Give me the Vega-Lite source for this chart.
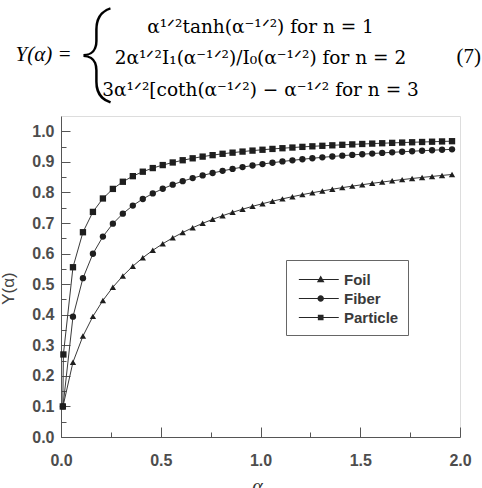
{
  "$schema": "https://vega.github.io/schema/vega-lite/v6.json",
  "width": 399,
  "height": 321,
  "autosize": {"type": "none"},
  "padding": {"left": 61, "top": 116, "right": 22, "bottom": 51},
  "background": "white",
  "title": {
    "text": ["α¹ᐟ²tanh(α⁻¹ᐟ²) for n = 1", "2α¹ᐟ²I₁(α⁻¹ᐟ²)/I₀(α⁻¹ᐟ²) for n = 2", "3α¹ᐟ²[coth(α⁻¹ᐟ²) − α⁻¹ᐟ² for n = 3"],
    "anchor": "middle",
    "frame": "group",
    "font": "DejaVu Serif",
    "fontSize": 18.5,
    "fontWeight": "normal",
    "lineHeight": 31.5,
    "color": "black",
    "offset": 0,
    "dy": 94
  },
  "data": {
    "values": [
      {"a": 0.009, "Particle": 0.100},
      {"a": 0.01, "Foil": 0.100, "Fiber": 0.100},
      {"a": 0.012, "Particle": 0.270},
      {"a": 0.06, "Foil": 0.2448, "Fiber": 0.3935, "Particle": 0.5553},
      {"a": 0.11, "Foil": 0.3301, "Fiber": 0.5195, "Particle": 0.6698},
      {"a": 0.16, "Foil": 0.3946, "Fiber": 0.5993, "Particle": 0.7363},
      {"a": 0.21, "Foil": 0.4467, "Fiber": 0.6556, "Particle": 0.7802},
      {"a": 0.26, "Foil": 0.4901, "Fiber": 0.6978, "Particle": 0.8115},
      {"a": 0.31, "Foil": 0.5269, "Fiber": 0.7306, "Particle": 0.8349},
      {"a": 0.36, "Foil": 0.5587, "Fiber": 0.7570, "Particle": 0.8532},
      {"a": 0.41, "Foil": 0.5863, "Fiber": 0.7786, "Particle": 0.8678},
      {"a": 0.46, "Foil": 0.6107, "Fiber": 0.7967, "Particle": 0.8797},
      {"a": 0.51, "Foil": 0.6321, "Fiber": 0.8120, "Particle": 0.8895},
      {"a": 0.56, "Foil": 0.6515, "Fiber": 0.8254, "Particle": 0.8980},
      {"a": 0.61, "Foil": 0.6689, "Fiber": 0.8368, "Particle": 0.9053},
      {"a": 0.66, "Foil": 0.6846, "Fiber": 0.8468, "Particle": 0.9116},
      {"a": 0.71, "Foil": 0.6989, "Fiber": 0.8557, "Particle": 0.9172},
      {"a": 0.76, "Foil": 0.7119, "Fiber": 0.8636, "Particle": 0.9220},
      {"a": 0.81, "Foil": 0.7239, "Fiber": 0.8706, "Particle": 0.9264},
      {"a": 0.86, "Foil": 0.7350, "Fiber": 0.8770, "Particle": 0.9301},
      {"a": 0.91, "Foil": 0.7451, "Fiber": 0.8828, "Particle": 0.9336},
      {"a": 0.96, "Foil": 0.7545, "Fiber": 0.8880, "Particle": 0.9368},
      {"a": 1.01, "Foil": 0.7632, "Fiber": 0.8928, "Particle": 0.9396},
      {"a": 1.06, "Foil": 0.7713, "Fiber": 0.8972, "Particle": 0.9423},
      {"a": 1.11, "Foil": 0.7789, "Fiber": 0.9013, "Particle": 0.9446},
      {"a": 1.16, "Foil": 0.7861, "Fiber": 0.9050, "Particle": 0.9468},
      {"a": 1.21, "Foil": 0.7928, "Fiber": 0.9085, "Particle": 0.9490},
      {"a": 1.26, "Foil": 0.7990, "Fiber": 0.9117, "Particle": 0.9508},
      {"a": 1.31, "Foil": 0.8049, "Fiber": 0.9148, "Particle": 0.9525},
      {"a": 1.36, "Foil": 0.8105, "Fiber": 0.9176, "Particle": 0.9541},
      {"a": 1.41, "Foil": 0.8157, "Fiber": 0.9202, "Particle": 0.9558},
      {"a": 1.46, "Foil": 0.8206, "Fiber": 0.9227, "Particle": 0.9571},
      {"a": 1.51, "Foil": 0.8253, "Fiber": 0.9250, "Particle": 0.9585},
      {"a": 1.56, "Foil": 0.8298, "Fiber": 0.9272, "Particle": 0.9597},
      {"a": 1.61, "Foil": 0.8340, "Fiber": 0.9292, "Particle": 0.9609},
      {"a": 1.66, "Foil": 0.8381, "Fiber": 0.9312, "Particle": 0.9621},
      {"a": 1.71, "Foil": 0.8419, "Fiber": 0.9330, "Particle": 0.9631},
      {"a": 1.76, "Foil": 0.8456, "Fiber": 0.9348, "Particle": 0.9641},
      {"a": 1.81, "Foil": 0.8491, "Fiber": 0.9364, "Particle": 0.9650},
      {"a": 1.86, "Foil": 0.8524, "Fiber": 0.9380, "Particle": 0.9659},
      {"a": 1.91, "Foil": 0.8556, "Fiber": 0.9395, "Particle": 0.9668},
      {"a": 1.96, "Foil": 0.8587, "Fiber": 0.9409, "Particle": 0.9676}
    ]
  },
  "transform": [
    {"fold": ["Foil", "Fiber", "Particle"], "as": ["s", "y"]},
    {"filter": "isValid(datum.y)"}
  ],
  "resolve": {"axis": {"x": "independent", "y": "independent"}, "scale": {"shape": "independent"}},
  "layer": [
    {
      "mark": {"type": "line", "color": "#3a3a3a", "strokeWidth": 1},
      "encoding": {
        "x": {
          "field": "a", "type": "quantitative",
          "scale": {"domain": [0, 2], "nice": false, "zero": false},
          "axis": {
            "orient": "bottom", "values": [0, 0.5, 1, 1.5, 2], "format": ".1f",
            "labelFlush": false, "labelOverlap": false, "grid": false,
            "tickSize": -10, "tickColor": "#555", "domainColor": "#555",
            "labelFont": "Liberation Sans", "labelFontWeight": "bold", "labelFontSize": 16,
            "labelColor": "#4d4d4d", "labelBaseline": "alphabetic", "labelPadding": 38,
            "title": "α", "titleFont": "Liberation Serif", "titleFontStyle": "italic",
            "titleFontWeight": "normal", "titleFontSize": 20, "titleColor": "#333",
            "titleX": 196, "titleY": 55, "titleAlign": "center", "titleBaseline": "alphabetic"
          }
        },
        "y": {
          "field": "y", "type": "quantitative",
          "scale": {"domain": [0, 1.05], "nice": false},
          "axis": {
            "orient": "left", "values": [0, 0.1, 0.2, 0.3, 0.4, 0.5, 0.6, 0.7, 0.8, 0.9, 1.0],
            "format": ".1f", "labelFlush": false, "labelOverlap": false, "grid": false,
            "tickSize": -9, "tickColor": "#555", "domainColor": "#555",
            "labelFont": "Liberation Sans", "labelFontWeight": "bold", "labelFontSize": 16,
            "labelColor": "#4d4d4d", "labelPadding": 16,
            "title": "Y(α)", "titleFont": "Liberation Sans", "titleFontWeight": "normal",
            "titleFontSize": 17, "titleColor": "#444", "titleAngle": -90,
            "titleX": -53, "titleY": 172, "titleAlign": "center", "titleBaseline": "middle"
          }
        },
        "detail": {"field": "s"}
      }
    },
    {
      "mark": {"type": "point", "filled": true, "color": "#1e1e1e", "size": 40, "opacity": 1},
      "encoding": {
        "x": {
          "field": "a", "type": "quantitative",
          "axis": {
            "orient": "bottom", "values": [0.25, 0.75, 1.25, 1.75], "labels": false,
            "domain": false, "grid": false, "tickSize": -5, "tickColor": "#555", "title": null
          }
        },
        "y": {
          "field": "y", "type": "quantitative",
          "axis": {
            "orient": "left", "values": [0.05, 0.15, 0.25, 0.35, 0.45, 0.55, 0.65, 0.75, 0.85, 0.95],
            "labels": false, "domain": false, "grid": false, "tickSize": -5, "tickColor": "#555", "title": null
          }
        },
        "shape": {
          "field": "s", "type": "nominal",
          "scale": {"domain": ["Foil", "Fiber", "Particle"], "range": ["triangle-up", "circle", "square"]},
          "legend": null
        }
      }
    },
    {
      "transform": [{"filter": "datum.a > 5"}],
      "mark": {"type": "point", "filled": true, "color": "#262626", "size": 361, "opacity": 1},
      "encoding": {
        "x": {
          "field": "a", "type": "quantitative",
          "axis": {
            "orient": "top", "values": [2], "labelExpr": "'(7)'", "ticks": false, "domain": false,
            "grid": false, "labelFlush": false, "labelOverlap": false,
            "labelFont": "Liberation Serif", "labelFontSize": 21, "labelFontWeight": "normal",
            "labelColor": "black", "labelAlign": "left", "labelBaseline": "alphabetic",
            "labelPadding": 54, "labelOffset": -4,
            "title": "Y(α) =", "titleFont": "Liberation Serif", "titleFontStyle": "italic",
            "titleFontSize": 21, "titleFontWeight": "normal", "titleColor": "black",
            "titleX": -46, "titleY": -56, "titleAlign": "left", "titleBaseline": "alphabetic", "titleAngle": 0
          }
        },
        "y": {
          "field": "y", "type": "quantitative",
          "axis": {
            "orient": "right", "ticks": false, "labels": false, "domain": false, "grid": false,
            "title": "{", "titleFont": "Roboto", "titleFontWeight": 100, "titleFontSize": 96,
            "titleColor": "black", "titleAngle": 0, "titleX": -365, "titleY": -63,
            "titleAlign": "center", "titleBaseline": "middle"
          }
        },
        "shape": {
          "field": "s", "type": "nominal",
          "scale": {
            "domain": ["Foil", "Fiber", "Particle"],
            "range": [
              "M-0.7,-0.05H3.5V0.05H-0.7ZM1.6,-0.42L2.0,0.3L1.2,0.3Z",
              "M-0.7,-0.05H3.5V0.05H-0.7ZM1.94,0A0.34,0.34,0,1,1,1.26,0A0.34,0.34,0,1,1,1.94,0Z",
              "M-0.7,-0.05H3.5V0.05H-0.7ZM1.3,-0.3H1.9V0.3H1.3Z"
            ]
          },
          "legend": {
            "orient": "none", "legendX": 225, "legendY": 144, "title": null,
            "padding": 9, "strokeColor": "#666", "fillColor": "white",
            "symbolSize": 361, "symbolOpacity": 1, "rowPadding": -1, "labelOffset": 28,
            "labelFont": "Liberation Sans", "labelFontSize": 15, "labelFontWeight": "bold",
            "labelColor": "#3a3a3a"
          }
        }
      }
    }
  ]
}
